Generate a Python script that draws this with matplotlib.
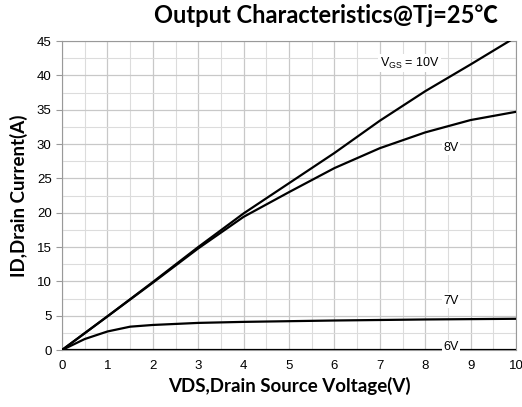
import matplotlib
matplotlib.use("Agg")
import matplotlib.pyplot as plt
from matplotlib.ticker import MultipleLocator

# curve data
vds = [0, 1, 2, 3, 4, 5, 6, 7, 8, 9, 10]
id_10v = [0, 4.9, 9.9, 15.0, 19.9, 24.3, 28.7, 33.4, 37.7, 41.6, 45.6]
id_8v = [0, 4.9, 9.8, 14.8, 19.4, 23.0, 26.5, 29.4, 31.7, 33.5, 34.7]
vds_7v = [0, 0.5, 1, 1.5, 2, 3, 4, 5, 6, 8, 10]
id_7v = [0, 1.6, 2.7, 3.4, 3.65, 3.95, 4.1, 4.2, 4.3, 4.45, 4.55]
vds_6v = [0, 10]
id_6v = [0, 0]

labels = ["V$_{\\mathregular{GS}}$ = 10V", "8V", "7V", "6V"]
label_pos = [(7.0, 41.8), (8.4, 29.5), (8.4, 7.2), (8.4, 0.4)]

fig = plt.figure(figsize=(5.22, 4.07), dpi=100)
ax = fig.add_axes([0.1188, 0.140, 0.8697, 0.759])

for x, y in [(vds, id_10v), (vds, id_8v), (vds_7v, id_7v), (vds_6v, id_6v)]:
    ax.plot(x, y, color="black", linewidth=1.6, clip_on=True, zorder=3)

for (tx, ty), t in zip(label_pos, labels):
    ax.text(tx, ty, t, fontsize=9, family="Liberation Sans", va="center", ha="left",
            zorder=4, bbox=dict(facecolor="white", edgecolor="none", pad=1))

ax.set_xlim(0, 10)
ax.set_ylim(0, 45)
ax.xaxis.set_major_locator(MultipleLocator(1))
ax.xaxis.set_minor_locator(MultipleLocator(0.5))
ax.yaxis.set_major_locator(MultipleLocator(5))
ax.yaxis.set_minor_locator(MultipleLocator(2.5))
ax.grid(True, which="major", color="#c8c8c8", linewidth=0.9)
ax.grid(True, which="minor", color="#dcdcdc", linewidth=0.8)
ax.set_axisbelow(True)

for s in ax.spines.values():
    s.set_color("#999999")
ax.tick_params(which="minor", length=0)
ax.tick_params(axis="y", which="major", length=4, color="#999999")
ax.tick_params(axis="x", which="major", length=0, pad=7)
for lab in ax.get_xticklabels() + ax.get_yticklabels():
    lab.set_family("Liberation Sans")
    lab.set_fontsize(9.5)

ax.set_xlabel("VDS,Drain Source Voltage(V)", fontsize=13.5, fontweight="bold", family="Lato", labelpad=4)
ax.set_ylabel("ID,Drain Current(A)", fontsize=13.5, fontweight="bold", family="Lato", labelpad=6)
fig.suptitle("Output Characteristics@Tj=25\u2103", fontsize=17, fontweight="bold",
             family=["Lato", "Noto Sans CJK SC", "DejaVu Sans"], x=0.625, y=0.99)

fig.savefig("out.png", dpi=100)
